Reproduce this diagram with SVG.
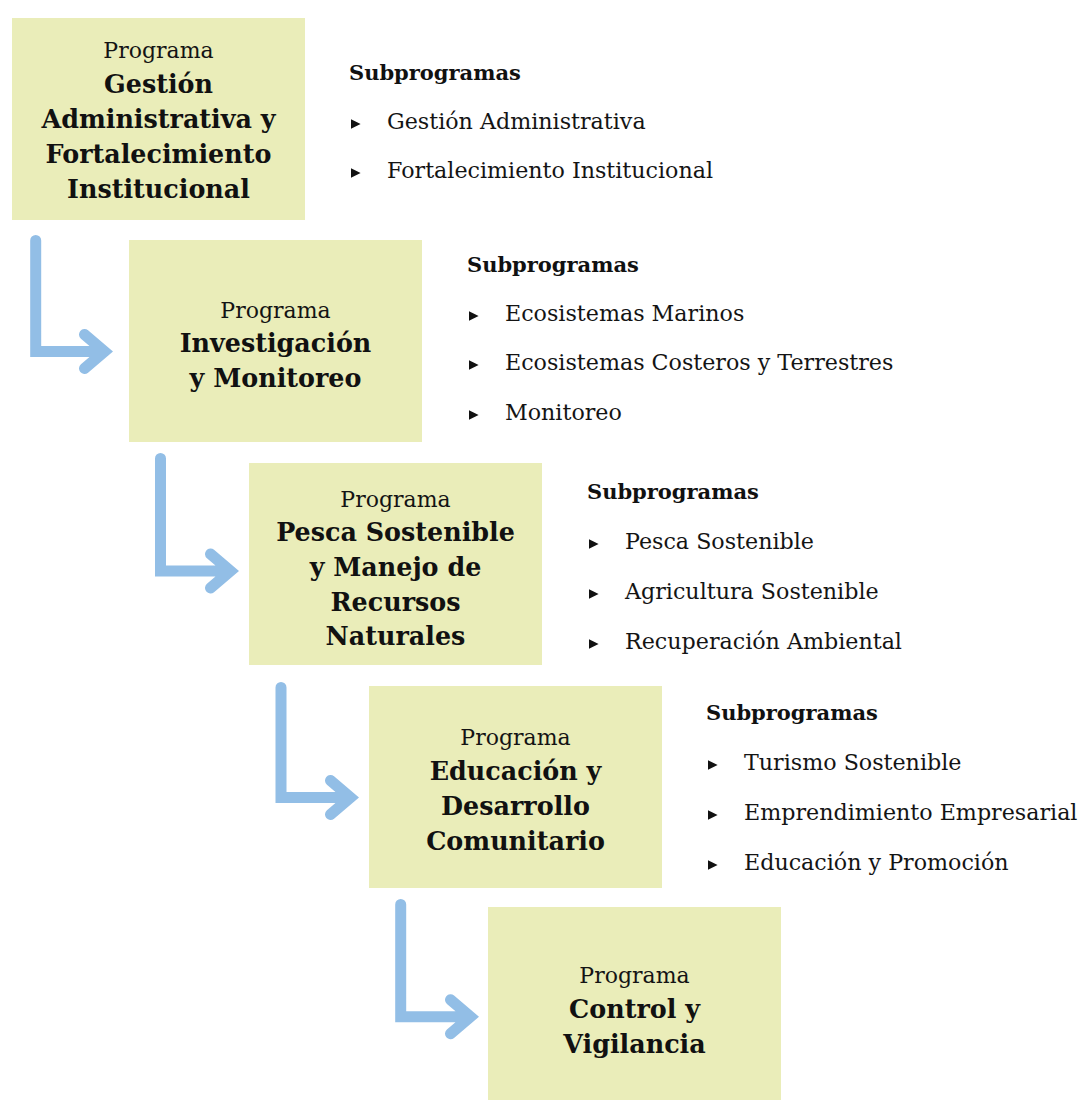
<svg xmlns="http://www.w3.org/2000/svg" width="1081" height="1100" viewBox="0 0 1081 1100">
  <defs>
    <style>
      .box { fill: #eaedb9; }
      .lbl { font-family: "DejaVu Serif", "Liberation Serif", serif; font-size: 22px; fill: #141414; text-anchor: middle; }
      .ttl { font-family: "DejaVu Serif", "Liberation Serif", serif; font-size: 25.4px; font-weight: bold; fill: #111; text-anchor: middle; }
      .hdr { font-family: "DejaVu Serif", "Liberation Serif", serif; font-size: 21px; font-weight: bold; fill: #111; }
      .item { font-family: "DejaVu Serif", "Liberation Serif", serif; font-size: 22.2px; fill: #141414; }
      .arrow { fill: none; stroke: #92bee6; stroke-width: 11; stroke-linecap: round; stroke-linejoin: miter; }
      .bullet { fill: #111; }
    </style>
    <polygon id="tri" points="0,-4.8 9.6,0 0,4.8"/>
  </defs>

  <rect width="1081" height="1100" fill="#ffffff"/>

  <!-- connectors between programme boxes -->
  <g id="connectors">
    <path class="arrow" d="M35.7,240.5 V351.5 H104.5 M84.5,334.5 L104.5,351.5 L84.5,368.5"/>
    <path class="arrow" d="M160.5,458.5 V571 H230.5 M210.5,554 L230.5,571 L210.5,588"/>
    <path class="arrow" d="M281,687.5 V797.5 H350.5 M330.5,780.5 L350.5,797.5 L330.5,814.5"/>
    <path class="arrow" d="M400.7,904.5 V1016.7 H470.5 M450.5,999.7 L470.5,1016.7 L450.5,1033.7"/>
  </g>

  <!-- programme 1 -->
  <g id="prog-gestion">
    <rect class="box" x="12" y="18" width="293" height="202"/>
    <text class="lbl" x="158.5" y="58">Programa</text>
    <text class="ttl" x="158.5" y="93">Gestión</text>
    <text class="ttl" x="158.5" y="128">Administrativa y</text>
    <text class="ttl" x="158.5" y="163">Fortalecimiento</text>
    <text class="ttl" x="158.5" y="198">Institucional</text>
  </g>
  <g id="sub-gestion">
    <text class="hdr" x="349" y="80">Subprogramas</text>
    <use href="#tri" class="bullet" x="351" y="124"/>
    <text class="item" x="387" y="129">Gestión Administrativa</text>
    <use href="#tri" class="bullet" x="351" y="173"/>
    <text class="item" x="387" y="178">Fortalecimiento Institucional</text>
  </g>

  <!-- programme 2 -->
  <g id="prog-investigacion">
    <rect class="box" x="129" y="240" width="293" height="202"/>
    <text class="lbl" x="275.5" y="318">Programa</text>
    <text class="ttl" x="275.5" y="352">Investigación</text>
    <text class="ttl" x="275.5" y="387">y Monitoreo</text>
  </g>
  <g id="sub-investigacion">
    <text class="hdr" x="467" y="272">Subprogramas</text>
    <use href="#tri" class="bullet" x="469" y="316"/>
    <text class="item" x="505" y="321">Ecosistemas Marinos</text>
    <use href="#tri" class="bullet" x="469" y="365"/>
    <text class="item" x="505" y="370">Ecosistemas Costeros y Terrestres</text>
    <use href="#tri" class="bullet" x="469" y="415"/>
    <text class="item" x="505" y="420">Monitoreo</text>
  </g>

  <!-- programme 3 -->
  <g id="prog-pesca">
    <rect class="box" x="249" y="463" width="293" height="202"/>
    <text class="lbl" x="395.5" y="507">Programa</text>
    <text class="ttl" x="395.5" y="541">Pesca Sostenible</text>
    <text class="ttl" x="395.5" y="576">y Manejo de</text>
    <text class="ttl" x="395.5" y="611">Recursos</text>
    <text class="ttl" x="395.5" y="645">Naturales</text>
  </g>
  <g id="sub-pesca">
    <text class="hdr" x="587" y="499">Subprogramas</text>
    <use href="#tri" class="bullet" x="589" y="544"/>
    <text class="item" x="625" y="549">Pesca Sostenible</text>
    <use href="#tri" class="bullet" x="589" y="594"/>
    <text class="item" x="625" y="599">Agricultura Sostenible</text>
    <use href="#tri" class="bullet" x="589" y="644"/>
    <text class="item" x="625" y="649">Recuperación Ambiental</text>
  </g>

  <!-- programme 4 -->
  <g id="prog-educacion">
    <rect class="box" x="369" y="686" width="293" height="202"/>
    <text class="lbl" x="515.5" y="745">Programa</text>
    <text class="ttl" x="515.5" y="780">Educación y</text>
    <text class="ttl" x="515.5" y="815">Desarrollo</text>
    <text class="ttl" x="515.5" y="850">Comunitario</text>
  </g>
  <g id="sub-educacion">
    <text class="hdr" x="706" y="720">Subprogramas</text>
    <use href="#tri" class="bullet" x="708" y="765"/>
    <text class="item" x="744" y="770">Turismo Sostenible</text>
    <use href="#tri" class="bullet" x="708" y="815"/>
    <text class="item" x="744" y="820">Emprendimiento Empresarial</text>
    <use href="#tri" class="bullet" x="708" y="865"/>
    <text class="item" x="744" y="870">Educación y Promoción</text>
  </g>

  <!-- programme 5 -->
  <g id="prog-control">
    <rect class="box" x="488" y="907" width="293" height="203"/>
    <text class="lbl" x="634.5" y="983">Programa</text>
    <text class="ttl" x="634.5" y="1018">Control y</text>
    <text class="ttl" x="634.5" y="1053">Vigilancia</text>
  </g>
</svg>
